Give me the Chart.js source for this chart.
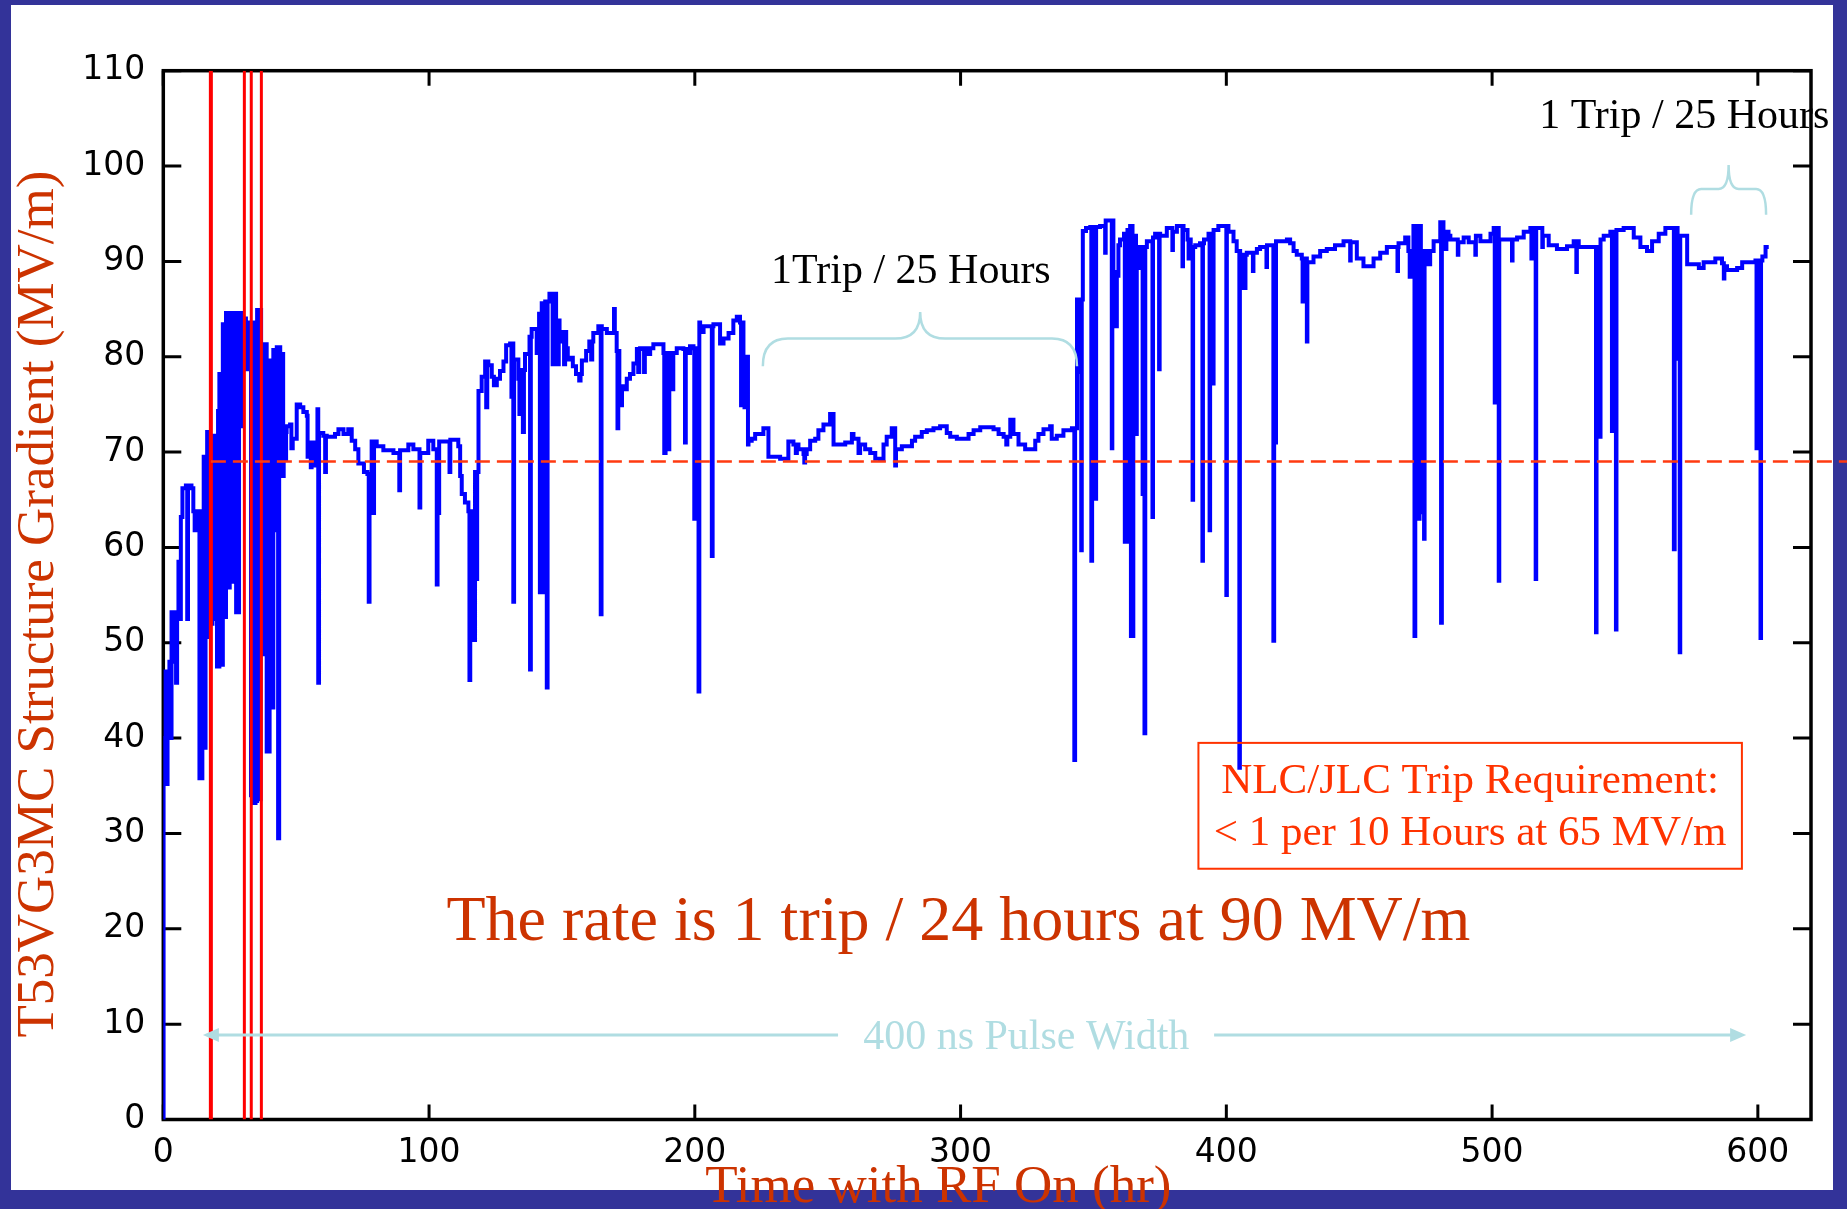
<!DOCTYPE html>
<html>
<head>
<meta charset="utf-8">
<title>T53VG3MC processing history</title>
<script src="https://cdn.jsdelivr.net/npm/chart.js@4.4.0/dist/chart.umd.min.js"></script>
<style>
  html, body { margin: 0; padding: 0; background: #333399; overflow: hidden; }
  canvas { display: block; }
</style>
</head>
<body>
<canvas id="history" width="1847" height="1209"></canvas>
<script>
// ---- data: [hours with RF on, gradient MV/m] ----
// first hours of conditioning, very noisy
var rampUp = [
  [0,0],[0.1,40],[0.4,35.2],[0.8,47],[1.2,35.2],[1.6,47],[1.9,40],[2.3,48],[2.7,40],
  [3.1,53.2],[3.7,48],[4.2,53.2],[4.8,45.8],[5.2,53.2],[5.7,58.5],[6.1,52.5],[6.6,63.2],
  [7.2,66.2],[8.5,66.5],[9.0,52.5],[9.3,66.5],[10.6,66.2],[11.3,63.8],[11.8,61.8],[12.3,63.8],
  [13.6,35.8],[14.0,63.8],[14.3,35.8],[14.7,63.8],
  [14.8,39],[15.2,69.5],[15.5,39],[15.9,69.5],
  [16.1,50.6],[16.5,72.1],[16.8,50.6],[17.2,72.1],
  [17.5,52],[17.9,71.7],[18.2,52],[18.5,71.7],
  [18.8,52.5],[19.2,71.7],[19.6,52.5],[20.0,71.7],
  [20.2,47.5],[20.6,74.3],[20.9,47.5],[21.1,78.2],
  [21.4,47.7],[21.8,78.2],[22.1,47.7],[22.4,83.4],
  [22.7,52.7],[23.0,83.4],[23.3,52.7],[23.6,84.6],
  [23.9,55.8],[24.3,84.6],[24.6,55.8],[25.0,84.6],
  [25.1,83.8],[25.4,56.4],[25.8,83.8],[26.1,56.4],[26.4,84.6],
  [27.4,53.2],[27.8,84.6],[28.1,53.2],[28.5,72.7],[28.9,84.6],[29.3,72.7],[29.7,84.6],
  [30.0,81.3],[30.5,84],
  [31.1,81.3],[31.5,78.7],[31.9,81.3],[32.3,78.7],
  [32.6,83.6],[33.0,34],[33.4,83.6],
  [33.6,33.2],[34.0,83.6],[34.3,33.2],[34.7,83.6],[35.0,33.4],
  [35.3,84.9],[35.6,33.6],[36.0,84.9],[36.3,33.6],
  [36.6,84.9],[36.8,81.3],
  [37.4,48.8],[37.8,81.3],[38.1,48.8],[38.5,81.3],
  [38.9,38.6],[39.3,79.6],[39.6,38.6],[40.0,79.6],
  [40.3,43.2],[40.7,79.6],[41.0,43.2],[41.4,80.7],
  [41.7,61.8],[42.1,80.7],[42.4,61.8],[42.7,81],
  [43.2,29.5],[43.6,81],
  [44.0,80.3],[44.4,67.5],[44.8,80.3],[45.1,67.5],
  [45.3,72.1],[45.8,69.2],[46.2,72.1]
];

// settling around 70 MV/m
var firstRun = [
  [46.4,72.7],[47.7,72.9],[48.2,70.4],[48.7,71.4],[50.2,75],[51.5,74.7],[52.7,74.2],[54.0,73.8],
  [54.3,69.5],[54.6,71],[55.5,68.4],[55.8,71],[57.0,68.6],[57.3,71],[58.0,74.5],[58.3,45.8],
  [58.6,72],[60.2,71.7],[60.9,67.9],[61.2,71.7],[61.5,71.6],[64.6,71.9],[65.9,72.4],[67.8,71.9],
  [69.6,72.4],[70.9,71.2],[72.2,70.3],[73.4,68.8],[75.5,67.9],[76.8,67.7],[77.3,54.3],[77.6,67.7],
  [78.4,71.1],[79.0,63.6],[79.3,71.1],[80.3,70.6],[82.8,70.2],[86.6,69.9],[88.8,66],[89.1,70.2],
  [92.2,70.8],[94.1,70.3],[96.4,64.2],[96.7,69.9],[99.7,71.2],[101.6,70.3],[102.9,56.1],[103.2,70.3],
  [103.5,63.6],[103.8,71.1],[107.7,67.9],[108.0,71.3],[110.5,71.3],[111.0,70.6],[111.7,67.5],
  [112.3,65.6],[113.5,64.7],[114.8,63.8],[115.2,46.1],[115.5,63.8],[116.1,50.3],[116.5,63.8],
  [116.9,50.3],[117.3,67.9],[117.7,56.7],[118.1,67.9],[118.6,76.4],[119.8,77.9],[121.1,79.5],
  [121.5,74.7],[121.9,79.5]
];

// pushing up to 80-86 MV/m
var secondRun = [
  [122.3,79.1],[123.6,77.9],[124.4,77],[125.5,77.7],[126.7,78.5],[128.0,79.5],[129.0,81.2],
  [130.5,81.4],[131.0,75.8],[131.4,81.4],[131.7,54.3],[132.0,79.7],[133.6,77.7],[134.0,74],
  [134.4,77.7],[134.9,78.6],[135.3,72.1],[135.7,78.6],[136.1,80.3],[137.8,82.1],[138.0,47.2],
  [138.3,82.1],[138.6,82.9],[140.5,80.4],[141.0,82.9],[141.4,84.5],[141.7,55.3],[142.1,84.5],
  [142.4,85.6],[143.0,55.3],[143.4,85.6],[143.7,85.8],[144.3,45.3],[144.6,85.8],[145.3,86.6],
  [146.5,79.2],[147.0,86.6],[147.8,83.8],[148.4,79.2],[148.8,83.8],[149.1,81.6],[150.3,82.6],
  [150.8,79.2],[151.2,82.6],[151.6,80.9],[152.2,79.7],[152.8,79.9],[154.1,79.0],[155.3,78.2],
  [156.5,77.5],[157.0,78.2],[157.5,79.6],[159.1,80.6],[160.3,81.6],[161.0,79.7],[161.4,81.6],
  [161.8,82.5],[163.7,83.2],[164.6,53],[164.9,83.2],[165.0,82.9],[166.9,82.5],[169.6,85.0],
  [169.9,82.5],[170.6,80.6],[170.9,72.5],[171.2,80.6],[171.6,76.9],[172.3,74.9],[172.6,76.9],
  [173.1,76.6],[174.4,77.7],[175.6,78.2],[176.9,79.3],[178.2,80.8],[178.7,78.4],[179.1,80.8],
  [179.4,80.9],[180.9,78.4],[181.2,80.9],[181.9,80.3],[183.2,80.9],[184.4,81.3],[188.2,80.4],
  [188.5,69.9],[189.0,70.3],[189.4,80.4],[190.0,70.3],[190.4,80.4],[191.5,76.6],[191.9,80.4],
  [193.2,80.9],[195.7,80.8],[196.3,71.0],[196.6,80.8],[197.0,80.4],[198.2,81.1],[199.5,80.9],
  [199.8,63],[200.2,80.9],[200.6,63],[201.0,80.9],[201.4,44.9],[201.7,83.6],[202.0,82.6],
  [203.3,83.2],[206.4,59.1],[206.7,83.2],[207.0,83.4],[209.5,81.4],[210.8,81.9],[212.7,82.5],
  [214.5,83.8],[215.8,84.2],[217.0,83.6],[217.4,74.9],[217.8,83.6],[218.3,80],[218.7,74.7],
  [219.1,80],[219.6,80],[220.0,70.8],[220.2,71.2],[221.4,71.4],[222.7,71.9],[225.8,72.5],
  [227.7,69.5]
];

// quiet stretch at ~71 MV/m
var plateau = [
  [232.1,69.3],[235.2,71.1],[237.1,70.8],[238.0,69.9],[238.4,70.8],[239.0,70.3],[240.9,69.8],
  [241.2,68.9],[241.5,69.8],[242.1,70.3],[243.4,71.2],[245.3,71.4],[246.5,72.3],[248.4,72.9],
  [250.9,74.0],[251.9,74.0],[252.2,70.8],[256.6,71.0],[259.1,71.9],[259.7,71.4],[261.6,69.9],
  [262.2,70.8],[264.1,70.3],[266.0,69.9],[267.9,69.3],[269.7,69.2],[271.0,70.8],[272.2,71.6],
  [274.1,72.5],[275.0,72.5],[275.4,68.6],[275.7,70.3],[277.9,70.6],[281.7,71.2],[282.9,71.6],
  [285.4,72.1],[287.3,72.3],[289.8,72.5],[292.3,72.7],[294.8,72.0],[296.1,71.6],[298.6,71.4],
  [303.0,71.9],[304.9,72.3],[307.4,72.6],[312.4,72.4],[314.3,71.9],[316.2,71.6],[317.2,70.8],
  [317.6,71.6],[318.7,73.4],[319.9,71.9],[321.8,70.8],[324.3,70.3],[328.1,71.2],[329.3,71.9],
  [331.2,72.4],[333.7,72.7],[334.3,71.4],[336.2,71.7],[338.7,72.3],[341.9,72.5],[342.8,37.7],
  [343.1,72.5]
];

// running at ~90 MV/m
var highRun = [
  [343.8,86],[344.2,78.4],[344.6,86],[345.0,78.4],[345.4,59.7],[345.6,86],[346.0,93.2],
  [347.2,93.5],[348.8,93.6],[349.2,58.6],[349.5,93.6],[349.8,65.1],[350.2,93.6],[350.6,65.1],
  [351.0,93.6],[352.5,93.7],[354.4,90.9],[354.6,94.3],[356.9,70.4],[357.1,94.3],[357.5,88.9],
  [357.9,83.2],[358.3,88.9],[358.6,83.2],[358.8,88.5],[359.4,91.7],[360.0,92.3],[361.5,92.9],
  [361.8,60.6],[362.1,92.9],[362.4,60.6],[362.8,93.3],[363.1,63.9],[363.5,93.3],[363.8,93.7],
  [364.1,50.7],[364.4,93.7],[364.7,50.7],[365.0,92.7],[365.3,71.9],[365.7,92.7],[366.0,71.9],
  [366.3,91.5],[367.0,89.3],[367.4,91.5],[368.2,91.5],[368.5,65.6],[368.8,91.5],[369.2,40.5],
  [369.5,91.5],[370.1,92.1],[372.2,63.2],[372.4,92.5],[373.2,92.9],[374.7,78.7],[374.9,92.9],
  [375.1,92.7],[377.6,93.5],[379.7,91.2],[379.9,93.1],[381.4,93.7],[383.5,89.5],[383.7,93.7],
  [383.9,93.3],[385.4,92.3],[385.8,90.3],[386.2,92.3],[386.6,91.5],[387.3,65.0],[387.5,91.5],
  [388.3,91.7],[390.1,91.9],[391.0,58.6],[391.2,91.9],[391.6,92.3],[393.3,92.9],[393.7,61.8],
  [393.9,92.9],[394.2,77.2],[394.6,92.9],[395.0,77.2],[395.2,93.3],[397.0,93.7],[400.0,55.0],
  [400.2,93.7],[400.8,93.1],[402.7,92.1],[403.9,91.1],[404.9,36.9],[405.1,91.1],[405.2,90.7],
  [405.8,87.2],[406.3,90.7],[406.8,87.2],[407.2,90.7],[407.7,90.9],[410.0,89.0],[410.2,90.9],
  [411.5,91.3],[412.7,91.5],[415.1,89.4],[415.3,91.7],[417.7,50.2],[418.0,91.7],[418.3,71.0],
  [418.7,92.1],[422.8,92.3],[424.0,91.9],[425.3,91.1],[426.5,90.7],[428.4,90.3],[428.7,85.8],
  [429.2,90.3],[429.6,85.8],[430.0,90.3],[430.3,81.6],[430.5,89.9],[432.8,90.5],[435.3,91.1],
  [437.8,91.3],[440.9,91.7],[444.1,92.1],[446.6,90.1],[446.8,92.0],[449.1,90.3],[451.6,89.5],
  [455.4,90.3],[457.9,90.9],[460.4,91.5],[464.4,89.0],[464.6,91.5],[464.8,91.9],[467.3,92.5],
  [468.5,91.1],[469.0,88.4],[469.4,91.1],[470.4,93.7],[470.8,50.7],[471.1,93.7],[471.5,63.0],
  [471.9,93.7],[472.3,63.0],[472.7,93.7],[473.2,83.8],[473.6,63.7],[474.0,83.8],[474.4,60.9],
  [474.6,91.1],[475.2,89.7],[475.7,91.1],[476.2,89.7],[476.7,91.1],[478.0,92.1],[480.5,94.1],
  [480.8,52.1],[481.1,94.1],[481.7,93.1],[482.3,91.3],[482.8,93.1],[483.6,92.7]
];

var finalRun = [
  [484.3,92.3],[487.1,90.7],[487.3,92.0],[489.3,92.5],[491.2,92.0],[493.7,90.7],[493.9,92.7],
  [495.6,92.1],[499.4,92.9],[500.6,93.5],[501.0,75.2],[501.4,93.5],[501.8,75.2],[502.2,93.5],
  [502.5,56.5],[502.7,92.3],[507.5,90.1],[507.7,92.3],[509.4,92.5],[511.9,93.1],[514.4,93.5],
  [514.8,90.3],[515.2,93.5],[515.7,93.5],[516.4,56.7],[516.6,93.5],[518.9,91.5],[519.1,92.7],
  [521.3,91.7],[524.4,91.3],[528.2,91.6],[530.7,92.1],[531.7,88.9],[531.9,92.1],[532.6,91.5],
  [538.2,91.5],[539.1,51.1],[539.3,91.5],[539.6,71.6],[540.0,91.5],[540.4,71.6],[540.8,92.3],
  [542.0,92.7],[544.5,93.1],[545.1,72.2],[545.5,93.1],[545.9,72.2],[546.3,93.1],[546.6,51.4],
  [546.8,93.3],[549.5,93.5],[553.3,92.5],[555.8,91.5],[558.3,91.1],[560.2,92.1],[562.7,92.9],
  [565.2,93.5],[568.4,59.8],[568.7,93.5],[569.0,79.8],[569.4,93.5],[569.8,79.8],[570.2,92.7],
  [570.6,49.0],[570.8,92.7],[573.4,89.7],[577.8,89.3],[579.6,89.9],[584.0,90.3],[586.5,89.8],
  [587.2,88.2],[587.4,89.5],[588.4,89.1],[592.2,89.3],[594.1,89.9],[599.1,90.1],[599.5,70.4],
  [599.9,90.1],[600.3,70.4],[600.7,90.1],[601.0,50.5],[601.2,90.1],[601.7,90.5],[602.9,91.5],
  [604.1,91.5]
];

var tripHours = [17.9, 30.5, 33.1, 36.9];   // red trip markers
var requirementGradient = 69;               // dashed line
var xTickValues = [0, 100, 200, 300, 400, 500, 600];
var yTickValues = [0, 10, 20, 30, 40, 50, 60, 70, 80, 90, 100, 110];

// ---- build the datasets ----
var trace = [].concat(rampUp, firstRun, secondRun, plateau, highRun, finalRun)
  .map(function(p){ return {x: p[0], y: p[1]}; });

var datasets = [{
  label: 'requirement',
  data: [{x: tripHours[0], y: requirementGradient}, {x: 634, y: requirementGradient}],
  borderColor: '#FF3A10',
  borderWidth: 2.5,
  borderDash: [15, 7],
  pointRadius: 0,
  clip: false,
  order: 0
}];
tripHours.forEach(function(h, i){
  datasets.push({
    label: 'trip ' + i,
    data: [{x: h, y: 0}, {x: h, y: 110}],
    borderColor: '#FF0000',
    borderWidth: i === 0 ? 4 : 3,
    pointRadius: 0,
    order: 1
  });
});
datasets.push({
  label: 'gradient',
  data: trace,
  stepped: true,
  borderColor: '#0000FF',
  borderWidth: 4,
  pointRadius: 0,
  fill: false,
  order: 2
});

var SERIF = '"Liberation Serif", "Times New Roman", serif';
var PALE = '#B0DDE2';

function brace(ctx, x1, x2, xm, yEnd, yFlat, yTip, r) {
  ctx.beginPath();
  ctx.moveTo(x1, yEnd);
  ctx.quadraticCurveTo(x1, yFlat, x1 + r, yFlat);
  ctx.lineTo(xm - r, yFlat);
  ctx.quadraticCurveTo(xm, yFlat, xm, yTip);
  ctx.quadraticCurveTo(xm, yFlat, xm + r, yFlat);
  ctx.lineTo(x2 - r, yFlat);
  ctx.quadraticCurveTo(x2, yFlat, x2, yEnd);
  ctx.stroke();
}

function arrowHead(ctx, x, y, dir) {
  ctx.beginPath();
  ctx.moveTo(x, y);
  ctx.lineTo(x - dir * 16, y - 7);
  ctx.lineTo(x - dir * 16, y + 7);
  ctx.closePath();
  ctx.fill();
}

var framePlugin = {
  id: 'frame',
  beforeDraw: function(chart) {
    var ctx = chart.ctx;
    ctx.save();
    ctx.fillStyle = '#333399';
    ctx.fillRect(0, 0, chart.width, chart.height);
    ctx.fillStyle = '#FFFFFF';
    ctx.fillRect(11, 5, 1822, 1185);
    ctx.restore();
  },
  beforeDatasetsDraw: function(chart) {
    var ctx = chart.ctx, a = chart.chartArea;
    var xs = chart.scales.x, ys = chart.scales.y;
    ctx.save();
    ctx.strokeStyle = '#000';
    ctx.lineWidth = 3.5;
    ctx.strokeRect(a.left, a.top, a.right - a.left, a.bottom - a.top);
    ctx.lineWidth = 3;
    ctx.beginPath();
    ys.ticks.forEach(function(t){
      var p = ys.getPixelForValue(t.value);
      ctx.moveTo(a.left, p); ctx.lineTo(a.left + 18, p);
      ctx.moveTo(a.right, p); ctx.lineTo(a.right - 18, p);
    });
    xs.ticks.forEach(function(t){
      var p = xs.getPixelForValue(t.value);
      ctx.moveTo(p, a.bottom); ctx.lineTo(p, a.bottom - 15);
      ctx.moveTo(p, a.top); ctx.lineTo(p, a.top + 15);
    });
    ctx.stroke();
    ctx.restore();
  },
  afterDatasetsDraw: function(chart) {
    var ctx = chart.ctx;
    var xs = chart.scales.x, ys = chart.scales.y;
    var px = function(v){ return xs.getPixelForValue(v); };
    var py = function(v){ return ys.getPixelForValue(v); };
    ctx.save();

    // trip rate notes with braces
    ctx.fillStyle = '#000';
    ctx.textAlign = 'center';
    ctx.textBaseline = 'alphabetic';
    ctx.font = '42px ' + SERIF;
    ctx.fillText('1Trip / 25 Hours', px(281.3), py(87.7));
    ctx.fillText('1 Trip / 25 Hours', px(572.3), py(104.0));
    ctx.strokeStyle = PALE;
    ctx.lineWidth = 2.5;
    brace(ctx, px(225.6), px(343.8), px(284.8), py(79.0), py(81.9), py(84.7), 25);
    brace(ctx, px(574.9), px(603.1), px(589.0), py(94.9), py(97.6), py(100.1), 10);

    // requirement box
    ctx.strokeStyle = '#FF3300';
    ctx.lineWidth = 2;
    var bx1 = px(389.5), bx2 = px(594), by1 = py(39.5), by2 = py(26.3);
    ctx.strokeRect(bx1, by1, bx2 - bx1, by2 - by1);
    ctx.fillStyle = '#FF3300';
    ctx.font = '43px ' + SERIF;
    ctx.fillText('NLC/JLC Trip Requirement:', px(491.7), py(34.2));
    ctx.fillText('< 1 per 10 Hours at 65 MV/m', px(491.7), py(28.8));

    // headline
    ctx.fillStyle = '#CC3300';
    ctx.font = '64px ' + SERIF;
    ctx.fillText('The rate is 1 trip / 24 hours at 90 MV/m', px(299.2), py(18.8));

    // pulse width arrow
    ctx.strokeStyle = PALE;
    ctx.fillStyle = PALE;
    ctx.lineWidth = 3;
    var ay = py(8.86);
    ctx.beginPath();
    ctx.moveTo(px(14.9) + 10, ay); ctx.lineTo(px(253.9), ay);
    ctx.moveTo(px(395.4), ay); ctx.lineTo(px(595.6) - 10, ay);
    ctx.stroke();
    arrowHead(ctx, px(14.9), ay, -1);
    arrowHead(ctx, px(595.6), ay, 1);
    ctx.font = '42px ' + SERIF;
    ctx.fillText('400 ns Pulse Width', px(324.7), py(7.4));
    ctx.restore();
  },
  afterDraw: function(chart) {
    var ctx = chart.ctx, a = chart.chartArea;
    ctx.save();
    ctx.fillStyle = '#CC3300';
    ctx.font = '53px ' + SERIF;
    ctx.textAlign = 'center';
    ctx.textBaseline = 'alphabetic';
    ctx.fillText('Time with RF On (hr)', a.left + 775, 1202);
    ctx.translate(53, (a.top + a.bottom) / 2 + 9);
    ctx.rotate(-Math.PI / 2);
    ctx.fillText('T53VG3MC Structure Gradient (MV/m)', 0, 0);
    ctx.restore();
  }
};

var tickFont = {family: '"DejaVu Sans", sans-serif', size: 33, lineHeight: 1};

new Chart(document.getElementById('history'), {
  type: 'line',
  data: {datasets: datasets},
  plugins: [framePlugin],
  options: {
    responsive: false,
    animation: false,
    events: [],
    layout: {padding: {left: 0, top: 70.7, right: 36, bottom: 0}},
    plugins: {legend: {display: false}, tooltip: {enabled: false}},
    scales: {
      x: {
        type: 'linear',
        min: 0, max: 620,
        afterBuildTicks: function(s){ s.ticks = xTickValues.map(function(v){ return {value: v}; }); },
        afterFit: function(s){ s.height = 89.5; },
        grid: {display: false, drawTicks: false},
        border: {display: false},
        ticks: {color: '#000', font: tickFont, padding: 17, maxRotation: 0}
      },
      y: {
        type: 'linear',
        min: 0, max: 110,
        afterBuildTicks: function(s){ s.ticks = yTickValues.map(function(v){ return {value: v}; }); },
        afterFit: function(s){ s.width = 163.3; },
        grid: {display: false, drawTicks: false},
        border: {display: false},
        ticks: {color: '#000', font: tickFont, padding: 18}
      }
    }
  }
});
</script>
</body>
</html>
